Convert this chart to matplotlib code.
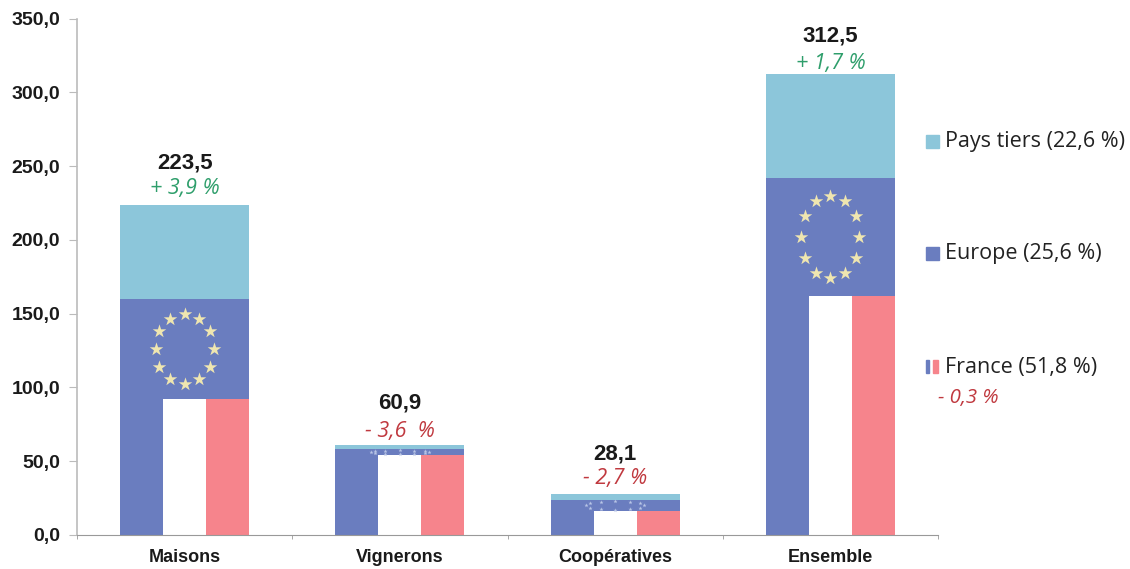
import numpy as np
import matplotlib
matplotlib.use("Agg")
import matplotlib.pyplot as plt

categories = ["Maisons", "Vignerons", "Coopératives", "Ensemble"]
france = [92.0, 54.0, 16.0, 162.0]
europe = [68.0, 4.0, 8.0, 80.0]
pays_tiers = [63.5, 2.9, 4.1, 70.5]
totals = ["223,5", "60,9", "28,1", "312,5"]
changes = ["+ 3,9 %", "- 3,6  %", "- 2,7 %", "+ 1,7 %"]
legend_labels = ["Pays tiers (22,6 %)", "Europe (25,6 %)", "France (51,8 %)"]
france_change = "- 0,3 %"
yticks = [0, 50, 100, 150, 200, 250, 300, 350]

BLUE = "#6A7DBF"; RED = "#F6848C"; TEAL = "#8CC6DA"
GREEN = "#2E9E6B"; DARKRED = "#C0393F"; STAR = "#EFE6B0"

# label offsets above the bar top, in pixels (layout only)
total_off = [42, 42, 40, 38]
change_off = [17, 14, 15, 10]

W, H = 1130, 569
fig = plt.figure(figsize=(W/100, H/100), dpi=100, facecolor="white")
ax = fig.add_axes([77/W, 1-535/H, (938-77)/W, (535-18.5)/H])

x = np.arange(len(categories))
bw = 0.60
fr = np.array(france); eu = np.array(europe); pt = np.array(pays_tiers)

ax.bar(x, fr, bw, color=BLUE)
ax.bar(x, fr, bw/3, color="white")
ax.bar(x + bw/3, fr, bw/3, color=RED)
ax.bar(x, eu, bw, bottom=fr, color=BLUE)
ax.bar(x, pt, bw, bottom=fr+eu, color=TEAL)

# EU stars: ring inside each Europe segment
angles = np.deg2rad(np.arange(0, 360, 30) + 90)
for i in range(len(categories)):
    cy = fr[i] + eu[i]/2
    big = eu[i] > 20
    ax.scatter(x[i] + 0.135*np.cos(angles), cy + 0.35*eu[i]*np.sin(angles),
               marker="*", s=105 if big else 10, color=STAR if big else "#B9C6E6",
               linewidths=0, zorder=4)

ax.set_xlim(-0.5, 3.5)
ax.set_ylim(0, 350)
ax.set_yticks(yticks)
ax.set_yticklabels([f"{v:.1f}".replace(".", ",") for v in yticks],
                   fontsize=14, fontweight="bold", color="#1A1A1A", family="Liberation Sans")
ax.set_xticks(x)
ax.set_xticklabels(categories, fontsize=13, fontweight="bold", color="#1A1A1A", family="Liberation Sans")
ax.set_xticks(np.arange(-0.5, 4), minor=True)
ax.tick_params(axis="x", which="major", length=0, pad=10)
ax.tick_params(axis="x", which="minor", length=3, color="#999999")
ax.tick_params(axis="y", length=5.5, color="#BBBBBB", pad=6.5)
for s in ("top", "right"):
    ax.spines[s].set_visible(False)
ax.spines["left"].set_color("#BBBBBB")
ax.spines["left"].set_linewidth(1.2)
ax.spines["bottom"].set_color("#999999")

for i in range(len(categories)):
    top = fr[i] + eu[i] + pt[i]
    ax.annotate(totals[i], (x[i], top), xytext=(0, total_off[i]), textcoords="offset pixels",
                ha="center", va="center", fontsize=16, fontweight="bold", color="#1A1A1A",
                family="Liberation Sans")
    col = GREEN if changes[i].startswith("+") else DARKRED
    ax.annotate(changes[i], (x[i], top), xytext=(0, change_off[i]), textcoords="offset pixels",
                ha="center", va="center", fontsize=15.5, style="italic", color=col,
                family="Open Sans")

# Legend placed by hand to mirror the reference
def lx(p): return p/W
def ly(p): return 1-p/H
for py, c, lab in [(141, TEAL, legend_labels[0]), (253, BLUE, legend_labels[1])]:
    fig.patches.append(plt.Rectangle((lx(926), ly(py+6.5)), 12.5/W, 12.5/H, transform=fig.transFigure, color=c))
    fig.text(lx(945), ly(py+1), lab, fontsize=15.5, va="center", color="#222222", family="Open Sans")
py = 366
fig.patches.append(plt.Rectangle((lx(926), ly(py+6.5)), 3/W, 13/H, transform=fig.transFigure, color=BLUE))
fig.patches.append(plt.Rectangle((lx(933), ly(py+6.5)), 5/W, 13/H, transform=fig.transFigure, color=RED))
fig.text(lx(945), ly(py+1), legend_labels[2], fontsize=15.5, va="center", color="#222222", family="Open Sans")
fig.text(lx(938), ly(398), france_change, fontsize=14.7, va="center", style="italic", color=DARKRED, family="Open Sans")

fig.savefig("out.png", dpi=100, facecolor="white")
